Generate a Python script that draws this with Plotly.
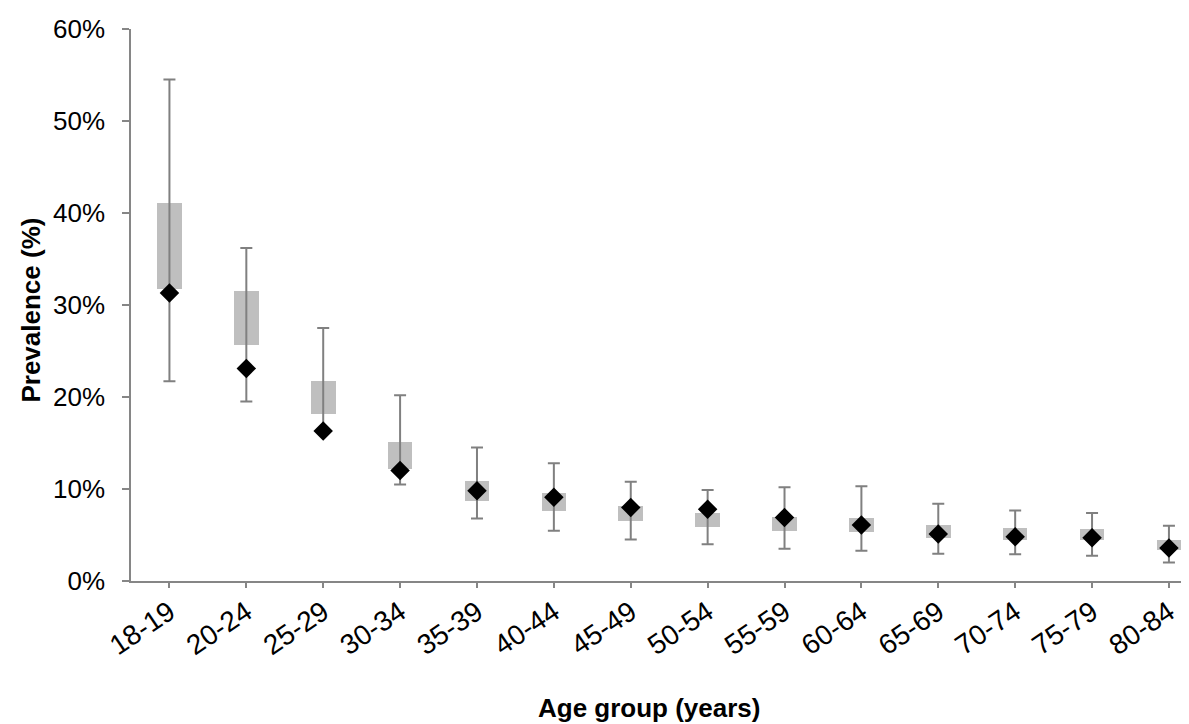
import plotly.graph_objects as go

categories = ["18-19", "20-24", "25-29", "30-34", "35-39", "40-44", "45-49",
              "50-54", "55-59", "60-64", "65-69", "70-74", "75-79", "80-84"]
estimate = [31.3, 23.1, 16.3, 12.0, 9.8, 9.1, 8.0, 7.8, 6.9, 6.1, 5.1, 4.8, 4.7, 3.6]
ci_low = [21.7, 19.5, 16.2, 10.5, 6.8, 5.45, 4.5, 4.0, 3.5, 3.3, 2.95, 2.9, 2.75, 2.0]
ci_high = [54.5, 36.2, 27.5, 20.2, 14.5, 12.8, 10.8, 9.9, 10.2, 10.3, 8.4, 7.65, 7.4, 6.0]
box_low = [31.7, 25.7, 18.1, 12.2, 8.75, 7.65, 6.55, 5.9, 5.4, 5.3, 4.7, 4.5, 4.5, 3.4]
box_high = [41.1, 31.5, 21.75, 15.1, 10.85, 9.6, 8.15, 7.4, 7.0, 6.9, 6.1, 5.8, 5.65, 4.45]
y_ticks = [0, 10, 20, 30, 40, 50, 60]
y_tick_labels = ["0%", "10%", "20%", "30%", "40%", "50%", "60%"]

FONT = "Liberation Sans, Arial, sans-serif"
AXIS = "#868686"

fig = go.Figure()
fig.add_trace(go.Bar(
    x=categories,
    y=[h - l for h, l in zip(box_high, box_low)],
    base=box_low,
    width=0.32,
    marker=dict(color="#BFBFBF", line=dict(width=0)),
    hoverinfo="skip",
    showlegend=False,
))
fig.add_trace(go.Scatter(
    x=categories,
    y=estimate,
    mode="markers",
    marker=dict(symbol="diamond", size=15, color="black"),
    error_y=dict(
        type="data",
        symmetric=False,
        array=[h - e for h, e in zip(ci_high, estimate)],
        arrayminus=[e - l for e, l in zip(estimate, ci_low)],
        color="#808080",
        thickness=2,
        width=6,
    ),
    showlegend=False,
))

fig.update_layout(
    width=1189,
    height=724,
    margin=dict(l=123, r=0, t=21, b=151),
    plot_bgcolor="white",
    paper_bgcolor="white",
    font=dict(family=FONT, size=26, color="black"),
    bargap=0,
    xaxis=dict(
        type="category",
        range=[-0.5, 13.365],
        showline=True,
        linecolor=AXIS,
        linewidth=1.5,
        ticks="outside",
        ticklen=5,
        tickcolor=AXIS,
        tickwidth=1.5,
        tickangle=-34,
        tickfont=dict(size=28),
        ticklabelstandoff=-3,
        showgrid=False,
        zeroline=False,
    ),
    yaxis=dict(
        range=[0, 60],
        tickmode="array",
        tickvals=y_ticks,
        ticktext=y_tick_labels,
        showline=True,
        linecolor=AXIS,
        linewidth=1.5,
        ticks="outside",
        ticklen=7,
        tickcolor=AXIS,
        tickwidth=1.5,
        tickfont=dict(size=26),
        ticklabelstandoff=12,
        showgrid=False,
        zeroline=False,
    ),
    annotations=[
        dict(text="<b>Age group (years)</b>", xref="paper", yref="paper",
             x=0.486, y=-0.2306, xanchor="center", yanchor="middle",
             showarrow=False, font=dict(size=26, family=FONT)),
        dict(text="<b>Prevalence (%)</b>", xref="paper", yref="paper",
             x=-0.0947, y=0.49, xanchor="center", yanchor="middle",
             textangle=-90, showarrow=False, font=dict(size=26, family=FONT)),
    ],
)

fig.write_html("out.html")
